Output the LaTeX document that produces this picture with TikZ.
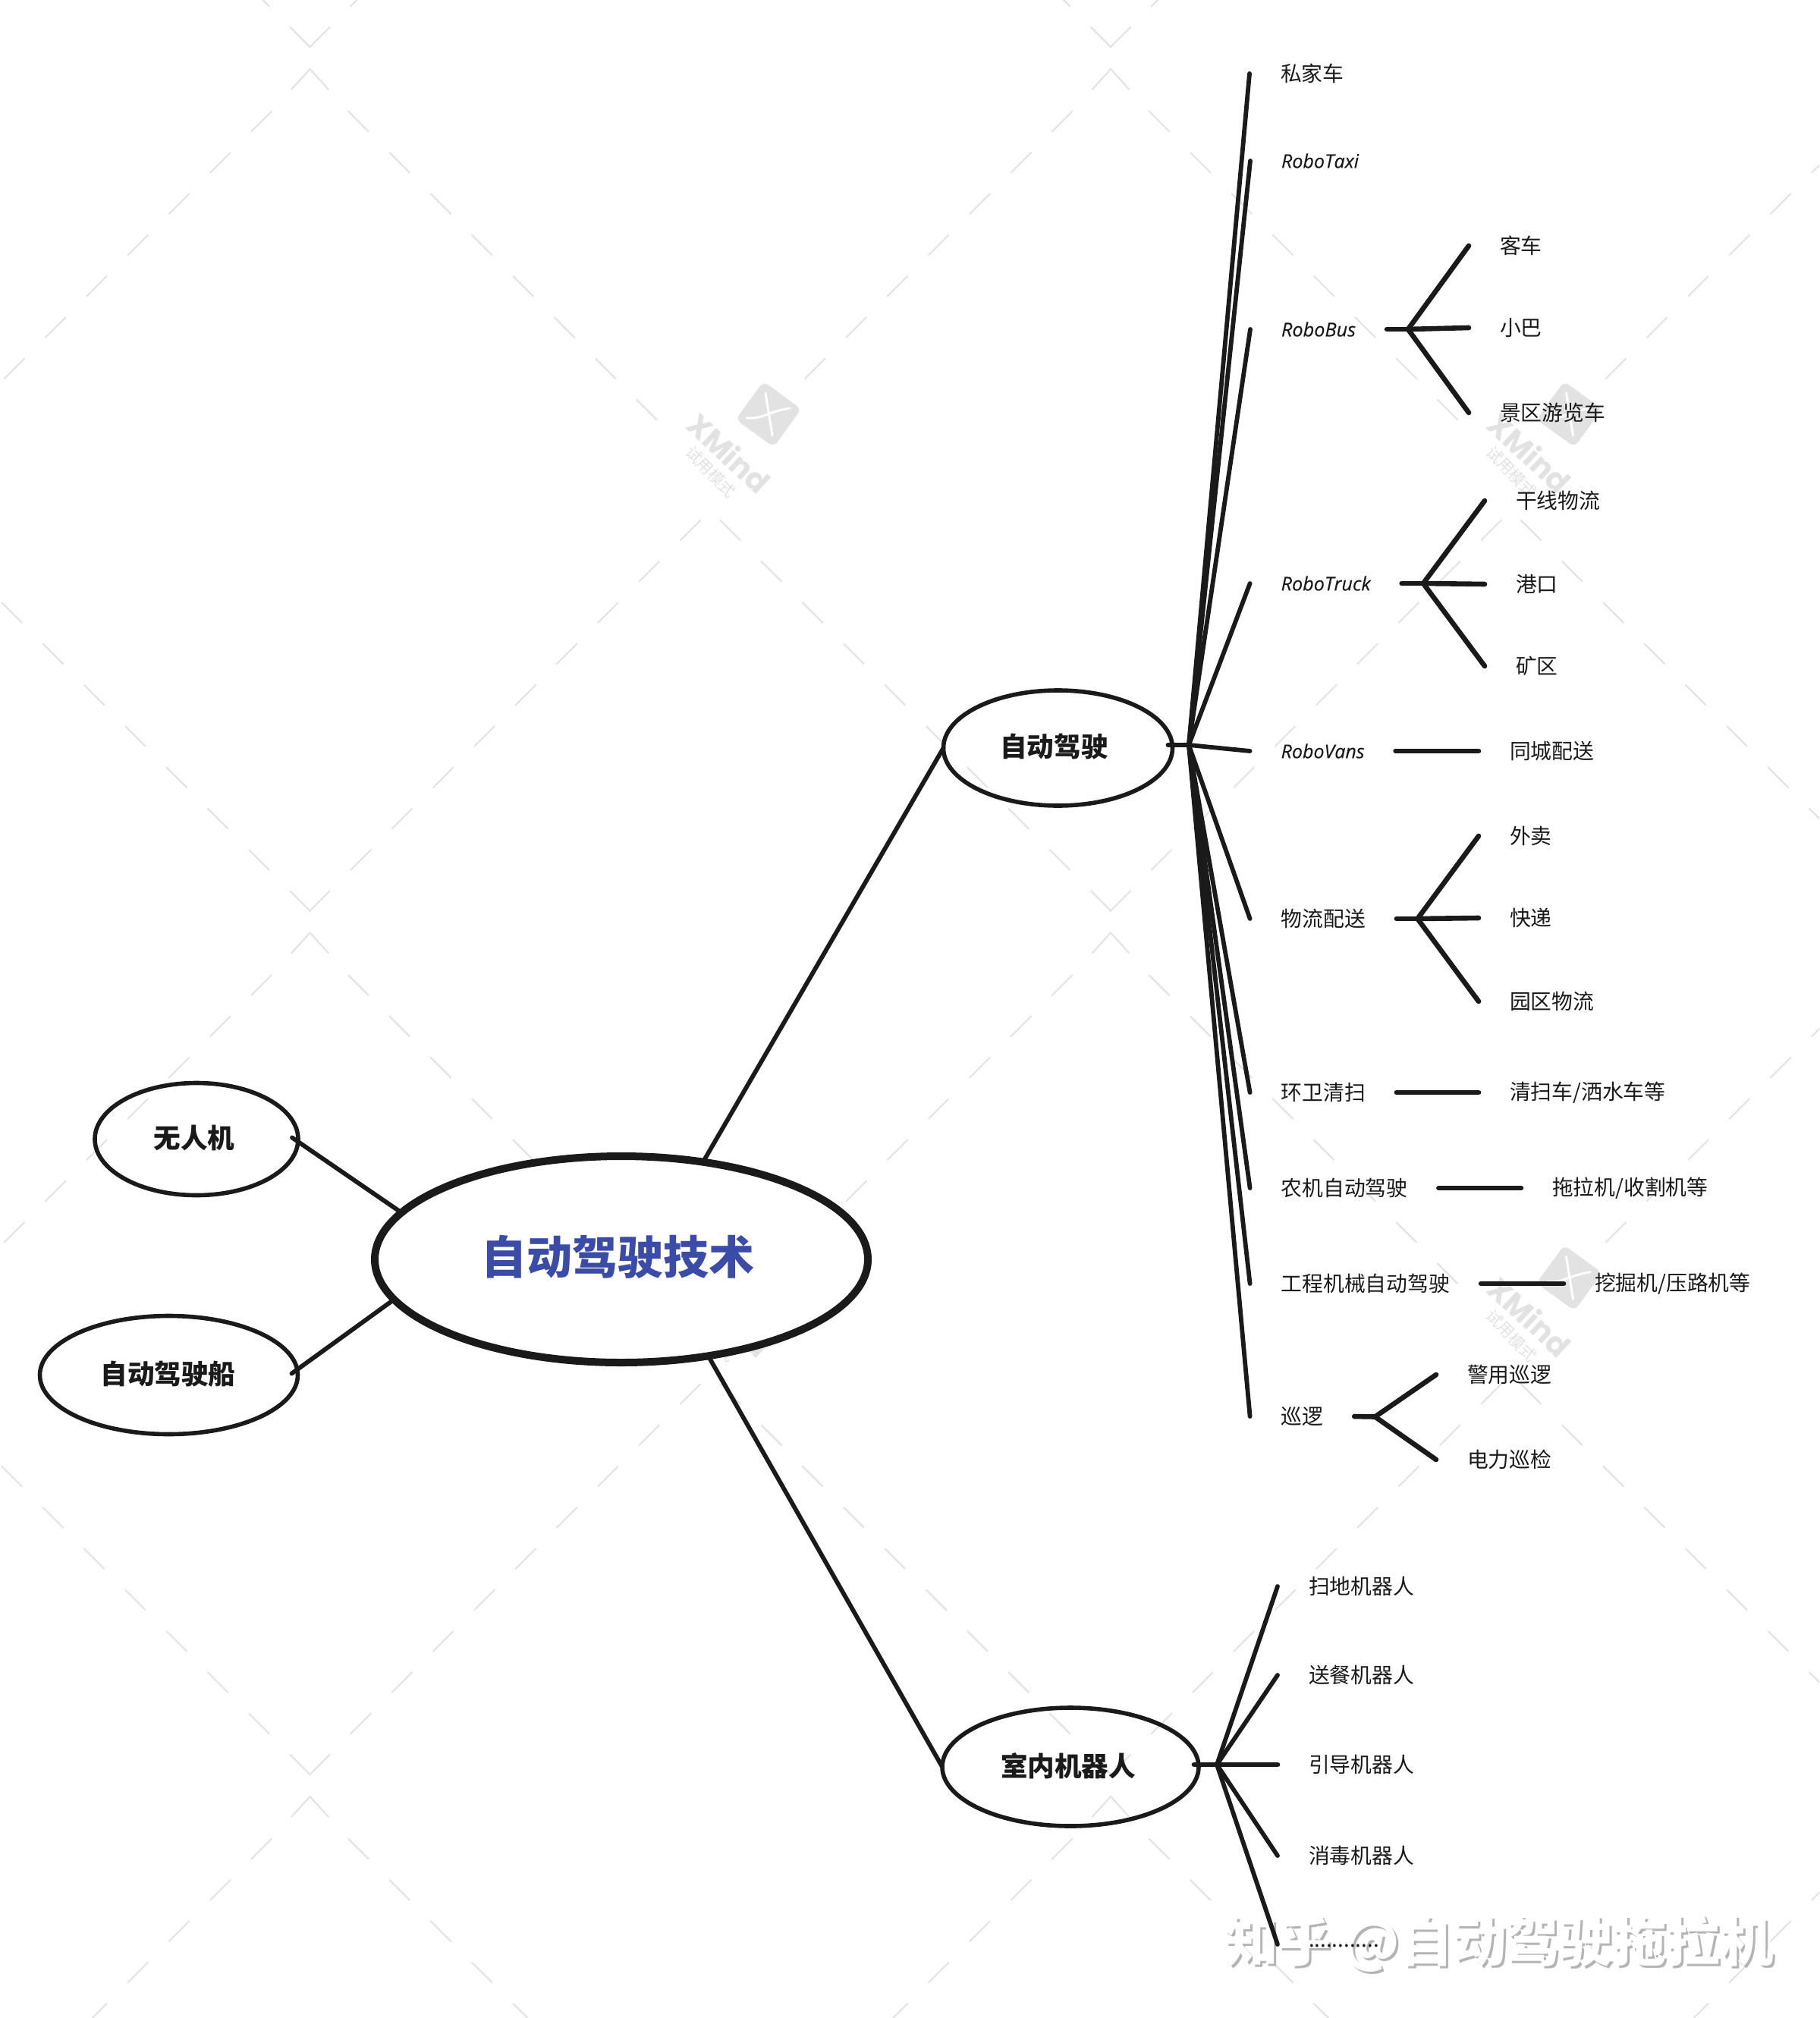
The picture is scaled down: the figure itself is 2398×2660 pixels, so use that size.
\documentclass[tikz,border=0pt]{standalone}
\usepackage{fontspec}
\usepackage{graphicx}
\usetikzlibrary{shapes.geometric}
\setmainfont{Noto Sans CJK SC}
\newfontfamily\handfont[FakeBold=0.25]{Open Sans}
\newfontfamily\xmfont{Poppins}
\newcommand{\fsz}[1]{\fontsize{#1}{#1}\selectfont}
\newcommand{\robo}[2]{\resizebox{#1}{!}{\handfont\itshape #2}}
\definecolor{ink}{HTML}{1A1A1A}
\definecolor{wmgrey}{HTML}{E2E2E2}
\definecolor{titleblue}{HTML}{3A4BA8}
\definecolor{zhgrey}{HTML}{B4B4B4}
\tikzset{
  x=0.5pt,y=-0.5pt,
  wmline/.style={draw=wmgrey,line width=1pt,line cap=round},
  leaf/.style={anchor=west,inner xsep=20.5pt,inner ysep=0pt,outer sep=0pt,text=ink,font=\fsz{13.9}},
  topic/.style={draw=ink,ellipse,line width=2.8pt,inner sep=0pt,outer sep=0pt,text=ink,font=\fsz{17.8}\bfseries},
  conn/.style={draw=ink,line width=2.9pt,line cap=round},
  branch/.style={draw=ink,line width=3.3pt,line cap=round},
}
\begin{document}
\begin{tikzpicture}
\useasboundingbox (0,0) rectangle (2398,2660);
\begin{scope}
\clip (0,0) rectangle (2398,2660);
% background watermark lattice
\foreach \i in {-1,0,1,2}{\foreach \j in {-1,0,1,2}{
  \begin{scope}[shift={(\i*1055.5,\j*1138.5)}]
    \draw[wmline] (408.6,91) -- (433,118);
    \draw[wmline] (408.6,91) -- (384,118);
    \foreach \k in {0,...,7}{
      \draw[wmline] (459.2+54.3*\k,146.8+54.3*\k) -- ++(26.5,26.5);
      \draw[wmline] (1413.4-54.3*\k,146.8+54.3*\k) -- ++(-26.5,26.5);
    }
    \foreach \k in {0,...,9}{
      \draw[wmline] (949.3+54.3*\k,685.7+54.3*\k) -- ++(26.5,26.5);
      \draw[wmline] (923.3-54.3*\k,685.7+54.3*\k) -- ++(-26.5,26.5);
    }
  \end{scope}
}}
\foreach \i in {0,1}{\foreach \j in {0,1}{
  \begin{scope}[shift={(\i*1055.5,\j*1138.5)}]
    \fill[wmgrey,rounded corners=4pt,rotate around={-36:(1013,546)}] (982,515) rectangle (1044,577);
    \draw[white,line width=1.5pt,line cap=round] (1009,518) .. controls (1013,543) .. (1018,574);
    \draw[white,line width=1.5pt,line cap=round] (984,551) .. controls (1008,552) and (1008,544) .. (1041,538);
    \node[text=wmgrey,rotate=-43,inner sep=0pt,font=\xmfont\bfseries\fsz{20}] (xm\i\j) at (961,597) {XMind};
    \node[text=wmgrey,rotate=-46,inner sep=0pt,font=\fsz{10.5}] (xt\i\j) at (937,622) {试用模式};
  \end{scope}
}}
\end{scope}

% topics
\node[draw=ink,fill=white,ellipse,line width=5pt,minimum width=325pt,minimum height=136pt,inner sep=0pt,outer sep=0pt,text=titleblue,font=\fsz{30}\bfseries] (root) at (819,1660) {\raisebox{6.5pt}{\kern-5pt 自动驾驶技术}};
\node[topic,minimum width=151pt,minimum height=76pt] (auto) at (1394.5,986) {\raisebox{4pt}{\kern-5pt 自动驾驶}};
\node[topic,minimum width=169pt,minimum height=78pt] (indoor) at (1411,2329) {\raisebox{3.5pt}{\kern-3pt 室内机器人}};
\node[topic,minimum width=134pt,minimum height=74pt] (drone) at (259,1501.5) {\raisebox{3.5pt}{\kern-3pt 无人机}};
\node[topic,minimum width=170pt,minimum height=78pt] (ship) at (222.5,1812.5) {\raisebox{3pt}{\kern-1pt 自动驾驶船}};

\draw[conn] (root.50.8) -- (auto.west);
\draw[conn] (root.-48.6) -- (indoor.west);
\draw[conn] (root.168.3) -- ([xshift=-4pt,yshift=1pt]drone.east);
\draw[conn] (root.190.5) -- ([xshift=-4pt,yshift=1pt]ship.east);

% autopilot subtree
\coordinate (hubA) at (1567,982);
\draw[conn] ([xshift=-3pt]hubA -| auto.east) -- (hubA);
\node[leaf] (a1) at (1647,97) {私家车};
\node[leaf] (a2) at (1648,212) {\robo{51pt}{RoboTaxi}};
\node[leaf] (a3) at (1648,434) {\robo{49pt}{RoboBus}};
\node[leaf] (a4) at (1647.6,769) {\robo{59pt}{RoboTruck}};
\node[leaf] (a5) at (1647.6,990) {\robo{55pt}{RoboVans}};
\node[leaf] (a6) at (1647.6,1211) {物流配送};
\node[leaf] (a7) at (1647.6,1440) {环卫清扫};
\node[leaf] (a8) at (1647.6,1566) {农机自动驾驶};
\node[leaf] (a9) at (1647.6,1692) {工程机械自动驾驶};
\node[leaf] (a10) at (1647.6,1867) {巡逻};
\foreach \n in {a1,a2,a3,a4,a5,a6,a7,a8,a9,a10}{\draw[conn] (hubA) -- (\n.west);}

% RoboBus
\coordinate (jBus) at (1856,434);
\draw[branch] (a3.east) -- (jBus);
\node[leaf] (b1) at (1936,324) {客车};
\node[leaf] (b2) at (1936,432) {小巴};
\node[leaf] (b3) at (1936,544) {景区游览车};
\foreach \n in {b1,b2,b3}{\draw[branch] (jBus) -- (\n.west);}

% RoboTruck
\coordinate (jTruck) at (1876,769);
\draw[branch] (a4.east) -- (jTruck);
\node[leaf] (c1) at (1957,660) {干线物流};
\node[leaf] (c2) at (1957,770) {港口};
\node[leaf] (c3) at (1957,878) {矿区};
\foreach \n in {c1,c2,c3}{\draw[branch] (jTruck) -- (\n.west);}

% RoboVans
\node[leaf] (d1) at (1949,990) {同城配送};
\draw[branch] (a5.east) -- (d1.west);

% logistics
\coordinate (jLog) at (1868.5,1211);
\draw[branch] (a6.east) -- (jLog);
\node[leaf] (e1) at (1949,1102) {外卖};
\node[leaf] (e2) at (1949,1210) {快递};
\node[leaf] (e3) at (1949,1320) {园区物流};
\foreach \n in {e1,e2,e3}{\draw[branch] (jLog) -- (\n.west);}

% single children
\node[leaf] (f1) at (1949,1440) {清扫车/洒水车等};
\draw[branch] (a7.east) -- (f1.west);
\node[leaf] (g1) at (2005,1566) {拖拉机/收割机等};
\draw[branch] (a8.east) -- (g1.west);
\node[leaf] (h1) at (2061,1692) {挖掘机/压路机等};
\draw[branch] (a9.east) -- (h1.west);

% patrol
\coordinate (jPat) at (1812.5,1867.5);
\draw[branch] (a10.east) -- (jPat);
\node[leaf] (i1) at (1893,1812) {警用巡逻};
\node[leaf] (i2) at (1893,1924) {电力巡检};
\foreach \n in {i1,i2}{\draw[branch] (jPat) -- (\n.west);}

% site watermark (under the last dotted leaf)
\node[text=zhgrey,inner sep=0pt,font=\fsz{35.2}\bfseries] (zhshadow) at (1979,2565) {知乎 @自动驾驶拖拉机};
\node[text=white,inner sep=0pt,font=\fsz{35.2}\bfseries] (zhtext) at (1976,2562) {知乎 @自动驾驶拖拉机};

% indoor subtree
\coordinate (hubB) at (1604,2326);
\draw[branch] ([xshift=-3pt]hubB -| indoor.east) -- (hubB);
\node[leaf] (r1) at (1684,2091) {扫地机器人};
\node[leaf] (r2) at (1684,2208) {送餐机器人};
\node[leaf] (r3) at (1684,2326) {引导机器人};
\node[leaf] (r4) at (1684,2446) {消毒机器人};
\node[leaf] (r5) at (1684,2563) {\raisebox{-3.5pt}{............}};
\foreach \n in {r1,r2,r4,r5}{\draw[conn] (hubB) -- (\n.west);}
\draw[branch] (hubB) -- (r3.west);
\end{tikzpicture}
\end{document}
